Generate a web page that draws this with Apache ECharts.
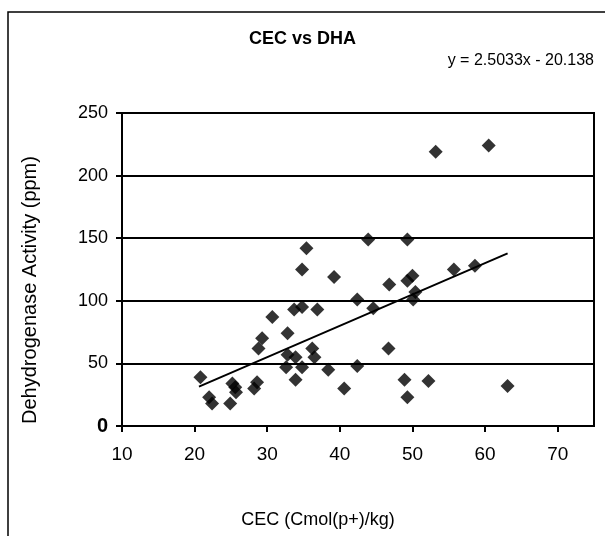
<!DOCTYPE html>
<html>
<head>
<meta charset="utf-8">
<script src="https://cdn.jsdelivr.net/npm/echarts@6/dist/echarts.min.js"></script>
<style>html,body{margin:0;padding:0;background:#fff;}</style>
</head>
<body>
<div id="ScatterChart" style="width:605px;height:536px;"></div>
<script>
// CEC (x) and DHA (y)
var cecValues = [20.8, 22.0, 22.4, 24.9, 25.2, 25.6, 25.7, 28.2, 28.6, 28.8, 29.3, 30.7,
  32.8, 32.8, 33.9, 32.6, 33.9, 34.8, 33.7, 34.8, 36.9, 36.2, 36.5, 38.4, 40.6, 35.4,
  34.8, 39.2, 42.4, 42.4, 44.6, 43.9, 46.8, 46.7, 48.9, 49.3, 49.3, 49.3, 50.0, 50.4,
  50.1, 52.2, 53.2, 55.7, 58.6, 60.5, 63.1];
var dhaValues = [39, 23, 18, 18, 34, 31, 27, 30, 35, 62, 70, 87,
  74, 57, 55, 47, 37, 47, 93, 95, 93, 62, 55, 45, 30, 142,
  125, 119, 101, 48, 94, 149, 113, 62, 37, 23, 149, 116, 120, 107,
  101, 36, 219, 125, 128, 224, 32];
// trendline y = 2.5033x - 20.138, drawn over the data range
var trendSlope = 2.5033;
var trendIntercept = -20.138;
var trendRange = [20.6, 63.1];
var xTickValues = [10, 20, 30, 40, 50, 60, 70];

var points = cecValues.map(function(x, i) {
  return [x, dhaValues[i]];
});
var trendData = trendRange.map(function(x) {
  return [x, trendSlope * x + trendIntercept];
});

var myChart = echarts.init(document.getElementById("ScatterChart"));
var font = "Liberation Sans, Arial, sans-serif";
var option = {
  animation: false,
  backgroundColor: "#fff",
  textStyle: { fontFamily: font },
  title: [
    {
      text: "CEC vs DHA",
      left: "center",
      top: 25,
      textStyle: { fontSize: 18, fontWeight: "bold", color: "#000", fontFamily: font }
    },
    {
      text: "y = 2.5033x - 20.138",
      right: 6,
      top: 48,
      textStyle: { fontSize: 16, fontWeight: "normal", color: "#000", fontFamily: font }
    }
  ],
  graphic: [
    {
      type: "rect",
      shape: { x: 8, y: 12, width: 700, height: 700 },
      style: { fill: "none", stroke: "#000", lineWidth: 1.5 },
      silent: true
    },
    {
      // x axis title
      type: "text",
      x: 318,
      y: 520,
      style: {
        text: "CEC (Cmol(p+)/kg)",
        font: "18px " + font,
        fill: "#000",
        align: "center",
        verticalAlign: "middle"
      },
      silent: true
    },
    {
      // y axis title
      type: "text",
      x: 30,
      y: 290,
      rotation: Math.PI / 2,
      style: {
        text: "Dehydrogenase Activity (ppm)",
        font: "20px " + font,
        fill: "#000",
        align: "center",
        verticalAlign: "middle"
      },
      silent: true
    }
  ],
  grid: {
    left: 122,
    right: 11,
    top: 113,
    bottom: 110,
    show: true,
    borderColor: "#000",
    borderWidth: 2
  },
  xAxis: {
    type: "value",
    min: 10,
    max: 75,
    interval: 10,
    axisLine: { onZero: false, lineStyle: { color: "#000", width: 2 } },
    axisTick: { length: 6, lineStyle: { color: "#000", width: 2 }, customValues: xTickValues },
    axisLabel: { fontSize: 19, color: "#000", margin: 19, customValues: xTickValues },
    splitLine: { show: false }
  },
  yAxis: {
    type: "value",
    min: 0,
    max: 250,
    interval: 50,
    axisLine: { show: true, lineStyle: { color: "#000", width: 2 } },
    axisTick: { show: true, length: 6, lineStyle: { color: "#000", width: 2 } },
    axisLabel: {
      fontSize: 18,
      color: "#000",
      margin: 14,
      formatter: function(v) {
        return v === 0 ? "{zero|0}" : String(v);
      },
      rich: { zero: { fontSize: 20, fontWeight: "bold", color: "#000" } }
    },
    splitLine: { lineStyle: { color: "#000", width: 2 } }
  },
  series: [
    {
      name: "DHA",
      type: "scatter",
      symbol: "diamond",
      symbolSize: 14,
      itemStyle: { color: "#000" },
      data: points
    },
    {
      name: "Linear (DHA)",
      type: "line",
      showSymbol: false,
      lineStyle: { color: "#000", width: 2 },
      data: trendData
    }
  ]
};
myChart.setOption(option);
</script>
</body>
</html>
